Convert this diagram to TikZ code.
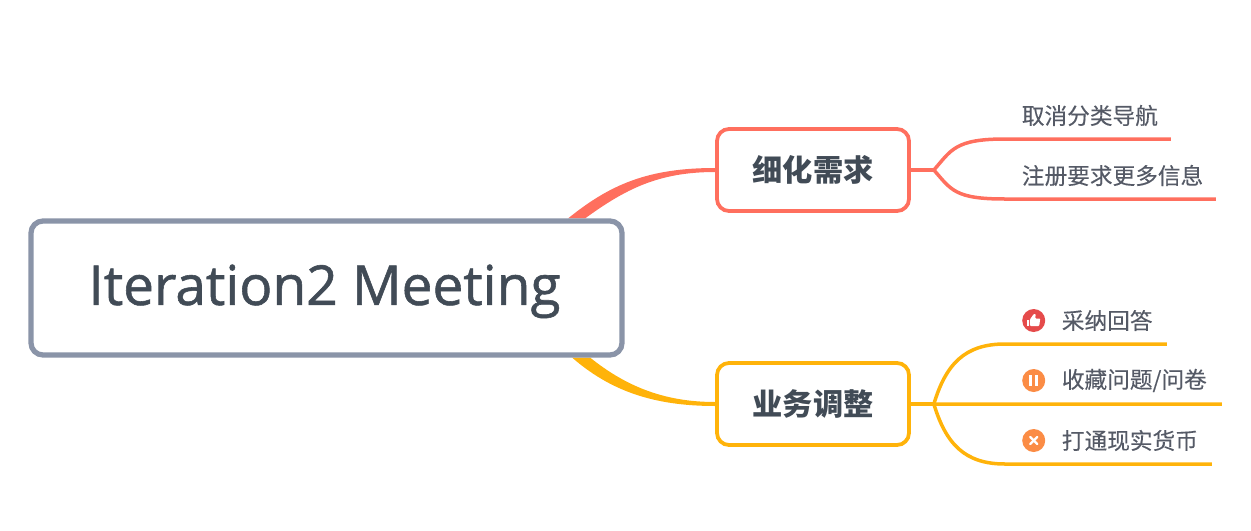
\documentclass[tikz,border=0pt]{standalone}
\usepackage{fontspec}
\setmainfont{Open Sans}
\newfontfamily\cjk{Noto Sans CJK SC}
\usepackage{tikz}
\usetikzlibrary{positioning,backgrounds}

\definecolor{rootline}{HTML}{8A94A8}
\definecolor{darktext}{HTML}{414B56}
\definecolor{leaftext}{HTML}{555A66}
\definecolor{needred}{HTML}{FF6F5E}
\definecolor{workyellow}{HTML}{FFB30A}
\definecolor{iconred}{HTML}{E54B4B}
\definecolor{iconorange}{HTML}{FB8C45}

\begin{document}
\begin{tikzpicture}[
    root/.style={draw=rootline, fill=white, line width=0.105cm, rounded corners=0.24cm,
        minimum width=11.82cm, minimum height=2.68cm, text=darktext, text height=26.8pt,
        font=\addfontfeature{FakeBold=1}\fontsize{31.3}{34}\selectfont,
        execute at begin node=\hspace*{-0.08cm}},
    branch/.style={draw=#1, fill=white, line width=0.075cm, rounded corners=0.24cm,
        minimum width=3.84cm, minimum height=1.64cm, text=darktext, font=\cjk\bfseries\fontsize{17.2}{20}\selectfont},
    leaf/.style={text width=#1, minimum height=0.94cm, inner sep=0pt, outer sep=0pt, align=left,
        text=leaftext, font=\cjk\addfontfeature{FakeBold=0.2}\fontsize{12.9}{15}\selectfont,
        execute at begin node=\hspace*{0.34cm}},
    iconleaf/.style={leaf=#1, execute at begin node=\hspace*{0.8cm}},
    icon/.style={circle, fill=#1, minimum size=0.46cm, inner sep=0pt},
    edge/.style={line width=0.07cm, draw=#1},
    taper/.style={fill=#1, draw=none}
]
\useasboundingbox (0,0) rectangle (25.02,-10.62);

\node[root] (root) at (6.53,-5.76) {Iteration2 Meeting};

\node[branch=needred, above right=0.11cm and 1.81cm of root.north east] (need) {细化需求};
\node[branch=workyellow, below right=0.07cm and 1.81cm of root.south east] (work) {业务调整};

\coordinate[right=0.46cm of need.east] (jneed);
\coordinate[right=0.46cm of work.east] (jwork);

\node[leaf=3.32cm, above right=0.62cm and 1.42cm of jneed] (nav) {取消分类导航};
\node[leaf=4.22cm, below=0.26cm of nav.south west, anchor=north west] (signup) {注册要求更多信息};

\node[iconleaf=3.24cm, above right=1.2cm and 1.42cm of jwork] (accept) {采纳回答};
\node[iconleaf=4.34cm, below=0.26cm of accept.south west, anchor=north west] (collect) {收藏问题/问卷};
\node[iconleaf=4.14cm, below=0.26cm of collect.south west, anchor=north west] (money) {打通现实货币};

\node[icon=iconred, right=0.34cm of accept.west] (icaccept) {};
\node[icon=iconorange, right=0.34cm of collect.west] (iccollect) {};
\node[icon=iconorange, right=0.34cm of money.west] (icmoney) {};

% icon glyphs
\begin{scope}[shift={(icaccept.center)}, x=0.02cm, y=-0.02cm]
    \fill[white] (-7,-1) rectangle (-4.8,5.5);
    \fill[white, rounded corners=0.5pt] (-3.8,-1) -- (0,-6.5) -- (2,-6.5) -- (1.5,-2) -- (6.5,-2) -- (5.5,5.5) -- (-3.8,5.5) -- cycle;
\end{scope}
\begin{scope}[shift={(iccollect.center)}]
    \fill[white] (-0.09,-0.11) rectangle (-0.03,0.11);
    \fill[white] (0.03,-0.11) rectangle (0.09,0.11);
\end{scope}
\begin{scope}[shift={(icmoney.center)}]
    \draw[white, line width=0.045cm, line cap=round] (-0.07,-0.07) -- (0.07,0.07);
    \draw[white, line width=0.045cm, line cap=round] (-0.07,0.07) -- (0.07,-0.07);
\end{scope}

% main branches
\begin{scope}[on background layer]
    \coordinate[left=1.13cm of root.north east] (needa);
    \coordinate[left=0.79cm of root.north east] (needb);
    \coordinate[left=1.05cm of root.south east] (worka);
    \coordinate[left=0.69cm of root.south east] (workb);
    \fill[taper=needred] (needa) .. controls +(0.84,0.68) and +(-1.34,0) .. ([yshift=0.04cm]need.west)
        -- ([yshift=-0.04cm]need.west) .. controls +(-1.14,0) and +(0.8,0.58) .. (needb) -- cycle;
    \fill[taper=workyellow] (workb) .. controls +(0.7,-0.56) and +(-1.04,0) .. ([yshift=0.04cm]work.west)
        -- ([yshift=-0.04cm]work.west) .. controls +(-1.24,0) and +(0.76,-0.66) .. (worka) -- cycle;
\end{scope}

% sub branches
\draw[edge=needred] (need.east) -- (jneed);
\draw[edge=needred] (jneed) .. controls +(0.35,0.4) and +(-1,0) .. (nav.south west) -- (nav.south east);
\draw[edge=needred] (jneed) .. controls +(0.35,-0.4) and +(-1,0) .. (signup.south west) -- (signup.south east);

\draw[edge=workyellow] (work.east) -- (jwork);
\draw[edge=workyellow] (jwork) .. controls +(0.24,0.8) and +(-0.8,0) .. (accept.south west) -- (accept.south east);
\draw[edge=workyellow] (jwork) -- (collect.south west) -- (collect.south east);
\draw[edge=workyellow] (jwork) .. controls +(0.24,-0.8) and +(-0.8,0) .. (money.south west) -- (money.south east);

\end{tikzpicture}
\end{document}
